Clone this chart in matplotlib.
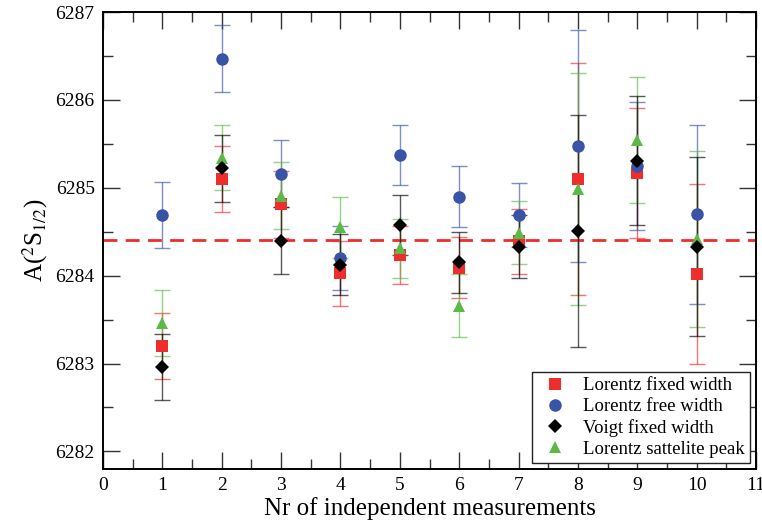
import matplotlib
matplotlib.use("Agg")
import matplotlib.pyplot as plt
from matplotlib.ticker import MultipleLocator

plt.rcParams['font.family'] = ['Liberation Serif', 'DejaVu Serif']
plt.rcParams['mathtext.fontset'] = 'stix'

x = [1, 2, 3, 4, 5, 6, 7, 8, 9, 10]

lor_fixed = [6283.20, 6285.10, 6284.81, 6284.03, 6284.23, 6284.09, 6284.39, 6285.10, 6285.17, 6284.02]
lor_fixed_err = [0.38, 0.38, 0.38, 0.37, 0.33, 0.35, 0.37, 1.32, 0.74, 1.02]

lor_free = [6284.69, 6286.47, 6285.16, 6284.20, 6285.37, 6284.90, 6284.69, 6285.47, 6285.25, 6284.70]
lor_free_err = [0.38, 0.38, 0.38, 0.36, 0.34, 0.35, 0.36, 1.32, 0.73, 1.02]

voigt_fixed = [6282.96, 6285.22, 6284.40, 6284.125, 6284.58, 6284.15, 6284.33, 6284.51, 6285.31, 6284.33]
voigt_fixed_err = [0.38, 0.38, 0.38, 0.35, 0.34, 0.35, 0.36, 1.32, 0.73, 1.02]

lor_sat = [6283.46, 6285.34, 6284.91, 6284.55, 6284.31, 6283.66, 6284.49, 6284.99, 6285.545, 6284.42]
lor_sat_err = [0.38, 0.37, 0.38, 0.35, 0.34, 0.36, 0.36, 1.32, 0.72, 1.00]

mean_value = 6284.41

series = [
    ("Lorentz fixed width", lor_fixed, lor_fixed_err, "#ee2d2d", "s", 8.0),
    ("Lorentz free width", lor_free, lor_free_err, "#3953a6", "o", 9.0),
    ("Lorentz sattelite peak", lor_sat, lor_sat_err, "#5cb947", "^", 9.0),
    ("Voigt fixed width", voigt_fixed, voigt_fixed_err, "#000000", "D", 7.0),
]

fig = plt.figure(figsize=(7.62, 5.23), dpi=100)
ax = fig.add_axes([0.1352, 0.1033, 0.8569, 0.8737])

handles = {}
for label, vals, errs, color, marker, ms in series:
    ax.errorbar(x, vals, yerr=errs, fmt='none', ecolor=color, alpha=0.65,
                elinewidth=1.0, capsize=5.5, capthick=1.0, zorder=2)
    h, = ax.plot(x, vals, linestyle='none', marker=marker, markersize=ms,
                 color=color, markeredgewidth=0, label=label, zorder=3)
    handles[label] = h

ax.axhline(mean_value, color="#ee2d2d", linestyle=(0, (5, 3)), linewidth=2.0, zorder=1)

ax.set_xlim(0, 11)
ax.set_ylim(6281.8, 6287)
ax.xaxis.set_major_locator(MultipleLocator(1))
ax.xaxis.set_minor_locator(MultipleLocator(0.5))
ax.yaxis.set_major_locator(MultipleLocator(1))
ax.yaxis.set_minor_locator(MultipleLocator(0.5))
ax.tick_params(which='both', direction='in', top=True, right=True, color='#333333')
ax.tick_params(which='major', length=12, width=1.0, labelsize=14, pad=6)
ax.tick_params(which='minor', length=7, width=1.0)
for s in ax.spines.values():
    s.set_linewidth(1.4)

ax.set_xlabel("Nr of independent measurements", fontsize=18, labelpad=2)
ax.set_ylabel(r"A($^{2}$S$_{1/2}$)", fontsize=18, labelpad=4)

order = ["Lorentz fixed width", "Lorentz free width", "Voigt fixed width", "Lorentz sattelite peak"]
leg = ax.legend([handles[k] for k in order], order, loc='lower right', fontsize=13.5,
                frameon=True, fancybox=False, edgecolor='#222222', framealpha=1,
                borderaxespad=0.3, handletextpad=0.6, labelspacing=0.2,
                borderpad=0.3, handlelength=1.8)
leg.get_frame().set_linewidth(1.0)

fig.savefig("out.png", dpi=100)
